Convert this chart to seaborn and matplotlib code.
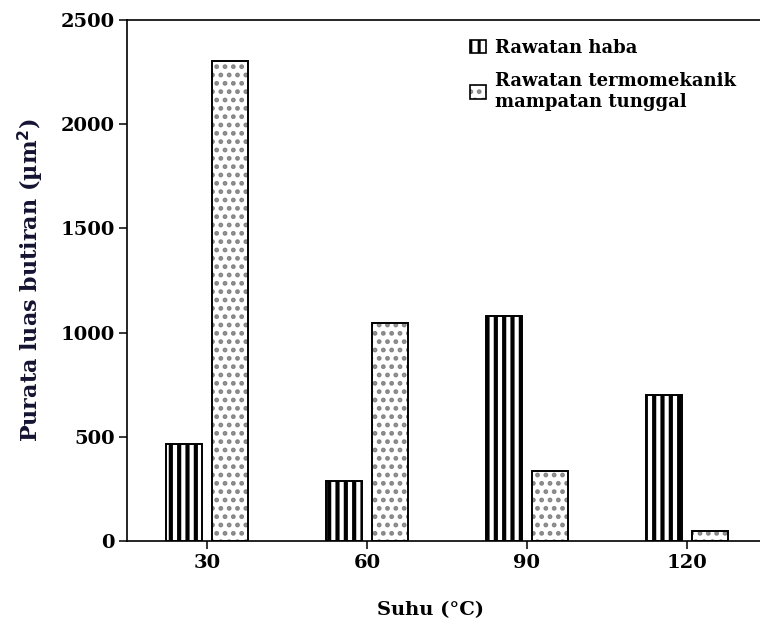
import matplotlib
matplotlib.use("Agg")
import matplotlib.pyplot as plt
from matplotlib.patches import Patch
import seaborn as sns
import pandas as pd

# ---- data ----
temperatures = ["30", "60", "90", "120"]
series_names = ["Rawatan haba", "Rawatan termomekanik\nmampatan tunggal"]
heat_values = [465, 290, 1078, 702]
thermo_values = [2305, 1048, 338, 48]
y_ticks = [0, 500, 1000, 1500, 2000, 2500]

df = pd.DataFrame({
    "Suhu": temperatures * 2,
    "Rawatan": [series_names[0]] * 4 + [series_names[1]] * 4,
    "Nilai": heat_values + thermo_values,
})

sns.set_theme(style="white")
plt.rcParams["font.family"] = ["DejaVu Serif"]
plt.rcParams["font.weight"] = "bold"
plt.rcParams["hatch.linewidth"] = 2.2

STRIPE_LW = 3.0
DOT_LW = 2.2
DOT_COLOR = "#858585"


def set_hlw(p, lw):
    if hasattr(p, "set_hatch_linewidth"):
        p.set_hatch_linewidth(lw)


fig = plt.figure(figsize=(7.6, 6.31), dpi=100)
ax = fig.add_axes([127 / 760, 90 / 631, 640 / 760, 521 / 631])

common = dict(data=df, x="Suhu", y="Nilai", hue="Rawatan", order=temperatures,
              hue_order=series_names, dodge=True, width=0.58, gap=0.22,
              ax=ax, legend=False)

# fill layer (hatch only)
sns.barplot(**common, palette=["white", "white"], edgecolor="black", linewidth=0)
n = len(temperatures)
for i, p in enumerate(ax.patches):
    if i < n:
        p.set_hatch("||")
        p.set_edgecolor("black")
        set_hlw(p, STRIPE_LW)
    else:
        p.set_hatch("..")
        p.set_edgecolor(DOT_COLOR)
        set_hlw(p, DOT_LW)
    p.set_linewidth(0)

# outline layer
sns.barplot(**common, fill=False, edgecolor="black", linewidth=1.4)
for p in ax.patches[2 * n:]:
    p.set_facecolor("none")
    p.set_edgecolor("black")
    p.set_linewidth(1.4)

ax.set_xlim(-0.5, 3.5)
ax.set_ylim(0, 2500)
ax.set_yticks(y_ticks)
ax.set_yticklabels([str(v) for v in y_ticks])

for s in ["left", "bottom", "top"]:
    ax.spines[s].set_visible(True)
    ax.spines[s].set_color("black")
    ax.spines[s].set_linewidth(1.2)
ax.spines["right"].set_visible(False)

ax.tick_params(axis="both", which="major", direction="out", length=6, width=1.1,
               color="black", labelsize=14, labelcolor="black", pad=3,
               bottom=True, left=True)
for lbl in ax.get_xticklabels() + ax.get_yticklabels():
    lbl.set_fontweight("bold")

ax.set_xlabel("Suhu (°C)", fontsize=14, fontweight="bold", color="black")
ax.set_ylabel("Purata luas butiran (µm$^{\\mathbf{2}}$)", fontsize=16,
              fontweight="bold", color="#141432")
ax.xaxis.set_label_coords(0.475, -0.115)
ax.yaxis.set_label_coords(-0.127, 0.5)

h1 = Patch(facecolor="white", edgecolor="black", hatch="||", linewidth=1.2)
set_hlw(h1, STRIPE_LW)
h2a = Patch(facecolor="white", edgecolor=DOT_COLOR, hatch="..", linewidth=0)
set_hlw(h2a, DOT_LW)
h2b = Patch(facecolor="none", edgecolor="black", linewidth=1.2)
leg = ax.legend([h1, (h2a, h2b)], series_names, loc="upper left",
                bbox_to_anchor=(0.51, 0.995), frameon=False,
                prop={"family": "DejaVu Serif", "weight": "bold", "size": 13},
                handlelength=0.9, handleheight=0.8, handletextpad=0.5,
                labelspacing=0.85)
for t in leg.get_texts():
    t.set_color("black")

fig.savefig("out.png", dpi=100)
